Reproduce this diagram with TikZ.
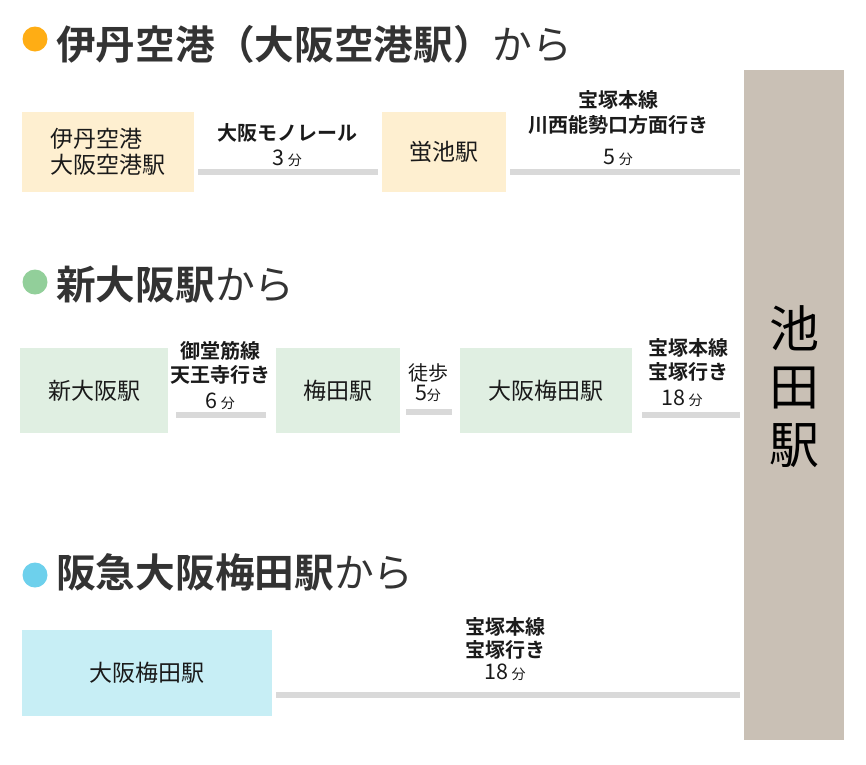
\documentclass[tikz,border=0pt]{standalone}
\usepackage{fontspec}
\setmainfont{Noto Sans CJK JP}[BoldFont={Noto Sans CJK JP Bold}]
\newcommand\fsz[1]{\fontsize{#1}{#1}\selectfont}
\definecolor{dotA}{HTML}{FFAD14}
\definecolor{dotB}{HTML}{92CF9A}
\definecolor{dotC}{HTML}{6DD0EC}
\definecolor{boxA}{HTML}{FEEFD0}
\definecolor{boxB}{HTML}{E0EFE2}
\definecolor{boxC}{HTML}{C7EEF5}
\definecolor{colc}{HTML}{C9C0B5}
\definecolor{barc}{HTML}{D9D9D9}
\definecolor{ttl}{HTML}{333333}
\definecolor{txt}{HTML}{1A1A1A}
\begin{document}
\begin{tikzpicture}[x=1pt,y=-1pt,
  dot/.style={circle,inner sep=0pt,outer sep=0pt,minimum size=25pt},
  title/.style={anchor=base west,inner sep=0pt,font=\fsz{39.7},text=ttl},
  stn/.style={anchor=north west,inner sep=0pt,outer sep=0pt,font=\fsz{23},text=txt},
  lbl/.style={anchor=base,inner sep=0pt,font=\fsz{20}\bfseries,text=txt},
  lbr/.style={anchor=base,inner sep=0pt,font=\fsz{20},text=txt},
  mins/.style={anchor=base,inner sep=0pt,font=\fsz{21.5},text=txt},
  bar/.style={line width=5.5pt,draw=barc},
  gap/.style n args={2}{shorten <=#1pt,shorten >=#2pt}]
\useasboundingbox (0,0) rectangle (866,764);
\newcommand\fn[1]{#1\,{\fsz{14}分}}
% column
\node[anchor=north west,fill=colc,inner sep=0pt,outer sep=0pt,minimum width=100pt,minimum height=670pt] (col) at (744,70) {};
\node[font=\fontsize{50}{58}\selectfont,align=center,text=black,inner sep=0pt] (colname) at (794,387) {池\\田\\駅};
% ---- row 1
\node[dot,fill=dotA] (d1) at (35,39) {};
\node[title] (t1) at (56,59) {\bfseries 伊丹空港（大阪空港駅）\mdseries から};
\node[stn,fill=boxA,minimum width=172pt,minimum height=80pt,align=left] (b11) at (22,112) {伊丹空港\\[3pt]大阪空港駅};
\node[stn,fill=boxA,minimum width=124pt,minimum height=80pt] (b12) at (382,112) {蛍池駅};
\coordinate (y1) at (0,172);
\draw[bar,gap={4}{4}] (b11.east |- y1) -- (b12.west |- y1);
\draw[bar,gap={4}{4}] (b12.east |- y1) -- (col.west |- y1);
\node[lbl] (l11a) at (287,140.5) {大阪モノレール};
\node[mins] (l11b) at (287,165.5) {\fn{3}};
\node[lbl] (l12a) at (618,107.5) {宝塚本線};
\node[lbl] (l12b) at (618,132.5) {川西能勢口方面行き};
\node[mins] (l12c) at (618,164.5) {\fn{5}};
% ---- row 2
\node[dot,fill=dotB] (d2) at (35,282) {};
\node[title] (t2) at (56,299) {\bfseries 新大阪駅\mdseries から};
\node[stn,fill=boxB,minimum width=148pt,minimum height=85pt] (b21) at (20,348) {新大阪駅};
\node[stn,fill=boxB,minimum width=124pt,minimum height=85pt] (b22) at (276,348) {梅田駅};
\node[stn,fill=boxB,minimum width=172pt,minimum height=85pt] (b23) at (460,348) {大阪梅田駅};
\coordinate (y2) at (0,415);
\coordinate (y2w) at (0,412);
\draw[bar,gap={8}{10}] (b21.east |- y2) -- (b22.west |- y2);
\draw[bar,gap={6}{8}] (b22.east |- y2w) -- (b23.west |- y2w);
\draw[bar,gap={10}{4}] (b23.east |- y2) -- (col.west |- y2);
\node[lbl] (l21a) at (220,358.5) {御堂筋線};
\node[lbl] (l21b) at (220,382.5) {天王寺行き};
\node[mins] (l21c) at (220,408.5) {\fn{6}};
\node[lbr] (l22a) at (428,380.5) {徒歩};
\node[mins] (l22b) at (428,400.5) {5{\fsz{14}分}};
\node[lbl] (l23a) at (688,355.5) {宝塚本線};
\node[lbl] (l23b) at (688,379.5) {宝塚行き};
\node[mins] (l23c) at (682,405.5) {\fn{18}};
% ---- row 3
\node[dot,fill=dotC] (d3) at (35,575) {};
\node[title] (t3) at (56,587) {\bfseries 阪急大阪梅田駅\mdseries から};
\node[stn,fill=boxC,minimum width=250pt,minimum height=86pt] (b31) at (22,630) {大阪梅田駅};
\coordinate (y3) at (0,695);
\draw[bar,gap={4}{4}] (b31.east |- y3) -- (col.west |- y3);
\node[lbl] (l31a) at (505,634.5) {宝塚本線};
\node[lbl] (l31b) at (505,657.5) {宝塚行き};
\node[mins] (l31c) at (505,679.5) {\fn{18}};
\end{tikzpicture}
\end{document}
